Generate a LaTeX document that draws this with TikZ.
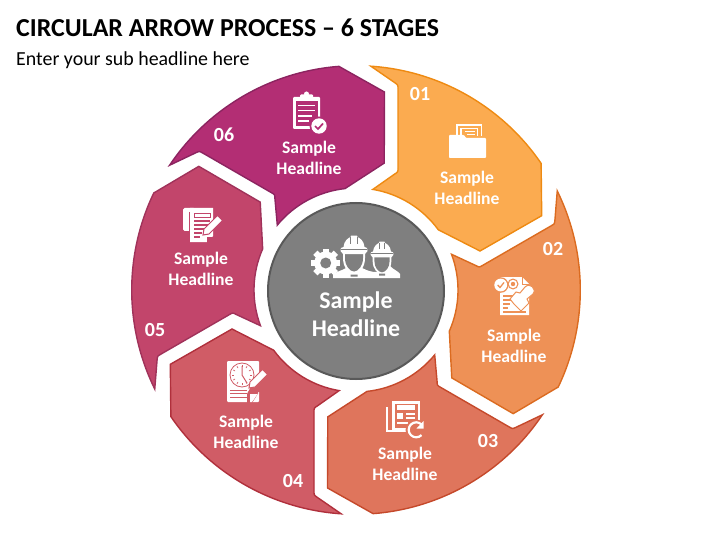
\documentclass[tikz,border=0pt]{standalone}
\usetikzlibrary{calc}
\usepackage{fontspec}
\setmainfont{Carlito}
\definecolor{fa}{HTML}{FBAB50}\definecolor{sa}{HTML}{EE8A12}
\definecolor{fb}{HTML}{EE9156}\definecolor{sb}{HTML}{DB6B20}
\definecolor{fc}{HTML}{DF755C}\definecolor{sc}{HTML}{C5492B}
\definecolor{fd}{HTML}{D05C66}\definecolor{sd}{HTML}{B0303C}
\definecolor{fe}{HTML}{C2456B}\definecolor{se}{HTML}{A0325A}
\definecolor{ff}{HTML}{B32E74}\definecolor{sf}{HTML}{8C2460}
\definecolor{hubfill}{HTML}{7F7F7F}\definecolor{hubline}{HTML}{595959}
\tikzset{
  x=1pt,y=-1pt,
  headtext/.style={text=white,font=\bfseries\fontsize{17.6}{21}\selectfont,align=center,inner sep=0pt},
  numtext/.style={text=white,font=\bfseries\fontsize{20}{22}\selectfont,inner sep=0pt},
}
\newcommand{\workerhead}[3]{%
  \begin{scope}[shift={(#1,#2)},scale=#3]
    \fill[white] (-11,0) -- (-11,8) .. controls (-11,18) and (-5,23.5) .. (0,23.5) .. controls (5,23.5) and (11,18) .. (11,8) -- (11,0) -- cycle;
    \fill[hubfill] (-9,1) -- (-9,8) .. controls (-9,16) and (-4,21.5) .. (0,21.5) .. controls (4,21.5) and (9,16) .. (9,8) -- (9,1) -- cycle;
    \fill[white] (-13.5,1) -- (-13,-2) -- (-10.5,-3) .. controls (-10,-9) and (-6,-12) .. (-3.5,-13) -- (-3,-14.5) -- (3,-14.5) -- (3.5,-13) .. controls (6,-12) and (10,-9) .. (10.5,-3) -- (13,-2) -- (13.5,1) -- (11,4) -- (-11,4) -- cycle;
    \draw[hubfill,line width=.7pt] (-3.2,-13) -- (-3.2,-6) (3.2,-13) -- (3.2,-6) (-13,-.5) -- (13,-.5);
  \end{scope}}
\begin{document}
\begin{tikzpicture}
\useasboundingbox (0,0) rectangle (720,540);
\node[anchor=base west,inner sep=0pt,font=\bfseries\fontsize{25.9}{28}\selectfont] (title) at (16,36.5) {CIRCULAR ARROW PROCESS – 6 STAGES};
\node[anchor=base west,inner sep=0pt,font=\fontsize{19.9}{22}\selectfont] (sub) at (16,65.5) {Enter your sub headline here};
% ring of six arrows
\foreach \k/\f/\s in {0/fa/sa,1/fb/sb,2/fc/sc,3/fd/sd,4/fe/se,5/ff/sf}{
  \begin{scope}[shift={(356,290)},x=1pt,y=1pt,rotate=-60*\k]
    \filldraw[fill=\f,draw=\s,line width=1.4pt,line join=miter,miter limit=10]
      (86.2:224.3) arc[start angle=86.2,end angle=34.37,radius=224.3]
      -- (185.7,74.3) -- (124,39)
      -- (36.2:102) arc[start angle=36.2,end angle=80.5,radius=102]
      -- (38.6,115.9) .. controls (42,118) .. (42,122)
      -- (42,201) .. controls (42,205) .. (38.8,207.3) -- cycle;
  \end{scope}
}
% hub
\node[circle,minimum size=176pt,inner sep=0pt,fill=hubfill,draw=hubline,line width=2pt] (hub) at (356,291) {};
\node[text=white,font=\bfseries\fontsize{23.9}{28.5}\selectfont,align=center,inner sep=0pt] (hubtext) at (356,314) {Sample\\Headline};
% gear
\foreach \a in {0,45,...,315}{\fill[white,rotate around={\a:(325.7,263)}] (322.7,248.5) rectangle (328.7,255);}
\fill[white] (325.7,263) circle[radius=11.5];
\fill[hubfill] (325.7,263) circle[radius=5.5];
% workers
\fill[white] (333,278) -- (333,275) .. controls (337,271) and (341,271) .. (346,268) -- (362,268) .. controls (368,271) and (372,272) .. (376,272) -- (390,266) .. controls (394,270) and (398,271) .. (400,274) -- (400,278) -- cycle;
\workerhead{382}{254}{.85}
\workerhead{354}{250}{1}
\fill[hubfill] (350.5,274.5) rectangle (357.5,276.5) (379,273.5) rectangle (385,275.5);
% labels
\node[headtext] (t1) at (467,187.5) {Sample\\Headline};
\node[headtext] (t2) at (514,345.5) {Sample\\Headline};
\node[headtext] (t3) at (405,463.5) {Sample\\Headline};
\node[headtext] (t4) at (246,431.5) {Sample\\Headline};
\node[headtext] (t5) at (201,268.5) {Sample\\Headline};
\node[headtext] (t6) at (309,157.5) {Sample\\Headline};
\node[numtext] (n1) at (420,94) {01};
\node[numtext] (n2) at (553,249) {02};
\node[numtext] (n3) at (488,441) {03};
\node[numtext] (n4) at (293,481) {04};
\node[numtext] (n5) at (155,330) {05};
\node[numtext] (n6) at (224,135) {06};
% icon 1: folder
\draw[white,line width=1.6pt] (457,136) -- (457,125) -- (481.5,125) -- (481.5,136);
\draw[white,line width=1.2pt] (461,136) -- (461,128.5) -- (477.5,128.5) -- (477.5,136);
\draw[white,line width=1pt] (465,132) -- (475,132) (467,135) -- (475,135);
\fill[white,rounded corners=.8pt] (449,158) -- (449,135) -- (464,135) -- (466,138) -- (486,138) -- (486,158) -- cycle;
% icon 2: document and stamp
\fill[white] (500,277) -- (522,277) -- (529,284) -- (529,315) -- (500,315) -- cycle;
\draw[fb,line width=1.2pt] (503,296) -- (516,296) (503,300) -- (512,300) (503,304) -- (510,304) (503,308) -- (508,308) (503,312) -- (526,312);
\draw[fb,line width=1pt] (522,277) -- (522,284) -- (529,284);
\fill[fb] (500.7,285) circle[radius=7.8];
\fill[white] (500.7,285) circle[radius=6.4];
\draw[fb,line width=1.3pt] (497.7,285) -- (500,287.5) -- (504,282.5);
\fill[fb] (513,284) circle[radius=5.5];
\fill[white] (513,284) circle[radius=4.2];
\fill[fb] (513,284) circle[radius=2.2];
\filldraw[fill=white,draw=fb,line width=1pt] (514,304) -- (521,311) -- (529,303) -- (527,299) -- (533,294) .. controls (537,289) and (530,282) .. (525,287) -- (520,293) -- (516,292) -- (510,299) -- cycle;
% icon 3: newspaper and refresh
\draw[white,line width=2pt] (387,407) -- (387,431) -- (407,431);
\fill[white] (392,401) rectangle (420,430);
\fill[fc] (394.5,403.5) rectangle (417.5,428);
\fill[white] (397,405) rectangle (415,410);
\fill[white] (397,413) rectangle (403,419) ;
\draw[white,line width=1.5pt] (406,414) -- (415,414) (406,418) -- (415,418) (397,423) -- (408,423);
\fill[fc] (416,430) circle[radius=10.5];
\draw[white,line width=2.2pt] (421.5,424.5) arc[start angle=-45,end angle=-315,radius=7.5];
\fill[white] (423.5,421) -- (423.5,428.5) -- (416.5,428.5) -- cycle;
% icon 4: clock sheet and pen
\fill[white,rounded corners=1pt] (227,361) rectangle (259,402);
\draw[fd,line width=.8pt] (242,375) circle[radius=12];
\foreach \a in {0,30,...,330}{\draw[fd,line width=.7pt] ($(242,375)+(\a:10)$) -- ($(242,375)+(\a:8)$);}
\draw[fd,line width=1pt] (242,366) -- (242,375) -- (247,383);
\draw[fd,line width=1pt] (230,390) -- (247,390) (230,393.5) -- (247,393.5) (230,397) -- (247,397);
\fill[fd] (247,394) -- (254,381) -- (268,381) -- (268,392) -- (260,392) -- (259,392) -- (252,403) -- (247,403) -- cycle;
\fill[white] (250,394) -- (258,394) -- (258,392) -- (259,392) -- (252,402) -- (250,402) -- cycle;
\filldraw[fill=white,draw=fd,line width=1pt] (249,388) -- (255,387) -- (267.5,374.5) -- (262.5,369.5) -- (250,382) -- cycle;
% icon 5: scroll and pen
\fill[white,rounded corners=1.5pt] (183,231) -- (183,208) -- (195,208) -- (195,231) -- cycle;
\fill[white] (190,208) -- (213,208) -- (213,236) -- (207,242) -- (190,242) -- cycle;
\draw[fe,line width=.8pt] (189.5,212) -- (189.5,231);
\draw[fe,line width=.9pt] (194,213.5) rectangle (210,217.5);
\draw[fe,line width=1.2pt] (194,221) -- (210,221) (194,225) -- (210,225) (194,229) -- (205,229) (194,233) -- (202,233) (194,237) -- (200,237);
\fill[fe] (207,242.5) -- (207,237) -- (213.5,237) -- cycle;
\filldraw[fill=white,draw=fe,line width=1pt] (203,235) -- (209,234) -- (222.5,220.5) -- (217.5,215.5) -- (204,229) -- cycle;
% icon 6: clipboard and check
\fill[white,rounded corners=1pt] (293,97) rectangle (320,129);
\fill[ff] (295.5,101.5) rectangle (317.5,126.5);
\fill[white,rounded corners=1pt] (300,94.5) rectangle (313,101);
\fill[white] (306.5,94) circle[radius=2.5];
\draw[white,line width=1.6pt] (298,105.5) -- (315,105.5) (298,110.5) -- (315,110.5) (298,116) -- (312,116) (298,121) -- (309,121);
\fill[ff] (319,126) circle[radius=9.5];
\fill[white] (319,126) circle[radius=7.7];
\draw[ff,line width=1.7pt] (315,126) -- (318,129) -- (323,123.5);
\end{tikzpicture}
\end{document}
